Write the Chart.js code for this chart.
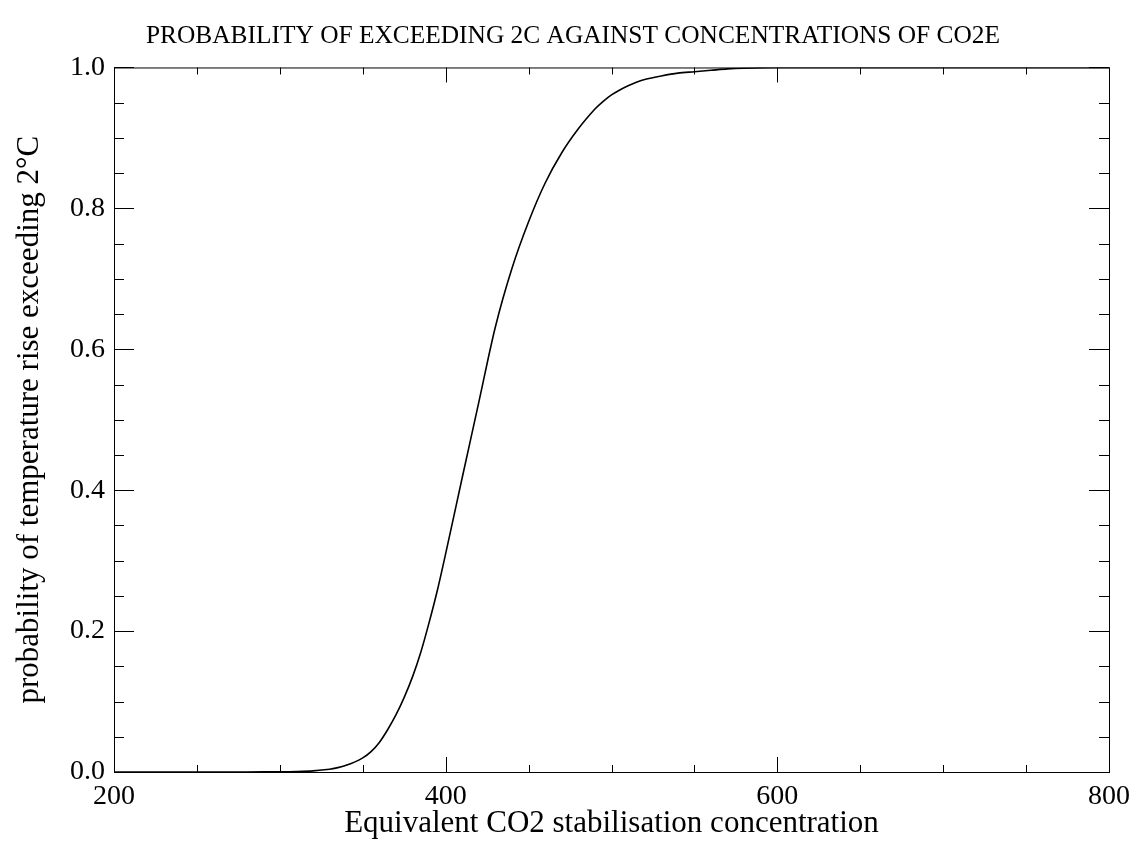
<!DOCTYPE html>
<html>
<head>
<meta charset="utf-8">
<script src="https://cdn.jsdelivr.net/npm/chart.js@4"></script>
<style>
  html, body { margin: 0; padding: 0; background: #fff; }
  #wrap { width: 1135px; height: 844px; }
</style>
</head>
<body>
<div id="wrap"><canvas id="chart" width="1135" height="844"></canvas></div>
<script>
// values
const concentration = [200, 250, 280, 300, 310, 320, 330, 335, 340, 345, 350, 355, 360, 365, 370, 375, 380, 385, 390, 395, 400, 410, 420, 430, 440, 450, 460, 470, 480, 490, 495, 500, 505, 510, 515, 520, 530, 540, 550, 560, 570, 580, 600, 650, 700, 750, 800];
const probability = [0, 0, 0, 0.0003, 0.0007, 0.0016, 0.0038, 0.0062, 0.0095, 0.014, 0.02, 0.029, 0.042, 0.06, 0.081, 0.106, 0.135, 0.17, 0.212, 0.258, 0.31, 0.418, 0.525, 0.632, 0.715, 0.781, 0.836, 0.879, 0.913, 0.941, 0.952, 0.961, 0.968, 0.974, 0.979, 0.983, 0.988, 0.992, 0.994, 0.996, 0.998, 0.999, 1, 1, 1, 1, 1];

const xRange = [200, 800];
const xMajorTicks = [200, 400, 600, 800];
const xMinorStep = 50;
const yRange = [0, 1];
const yMajorTicks = [0, 0.2, 0.4, 0.6, 0.8, 1.0];
const yMinorStep = 0.05;

const serif = "'Liberation Serif', 'Times New Roman', serif";

// IDL style box with inward ticks on all four sides
const frameTicks = {
  id: 'frameTicks',
  afterDatasetsDraw(chart) {
    const {ctx, chartArea: a, scales: {x, y}} = chart;
    ctx.save();
    ctx.strokeStyle = '#000';
    ctx.lineWidth = 1;
    ctx.strokeRect(a.left + 0.5, a.top + 0.5, a.width, a.height);
    ctx.beginPath();
    const nx = Math.round((xRange[1] - xRange[0]) / xMinorStep);
    for (let i = 0; i <= nx; i++) {
      const v = xRange[0] + i * xMinorStep;
      const px = Math.round(x.getPixelForValue(v)) + 0.5;
      const len = xMajorTicks.includes(v) ? 15 : 7;
      ctx.moveTo(px, a.bottom); ctx.lineTo(px, a.bottom - len);
      ctx.moveTo(px, a.top); ctx.lineTo(px, a.top + len);
    }
    const ny = Math.round((yRange[1] - yRange[0]) / yMinorStep);
    for (let i = 0; i <= ny; i++) {
      const v = +(yRange[0] + i * yMinorStep).toFixed(2);
      const py = Math.round(y.getPixelForValue(v)) + 0.5;
      const len = yMajorTicks.includes(v) ? 20 : 10;
      ctx.moveTo(a.left, py); ctx.lineTo(a.left + len, py);
      ctx.moveTo(a.right, py); ctx.lineTo(a.right - len, py);
    }
    ctx.stroke();
    ctx.restore();
  }
};

const points = concentration.map((c, i) => ({x: c, y: probability[i]}));

new Chart(document.getElementById('chart'), {
  type: 'scatter',
  data: {
    datasets: [{
      data: points,
      showLine: true,
      borderColor: '#000',
      borderWidth: 1.6,
      pointRadius: 0,
      tension: 0.3,
      fill: false
    }]
  },
  options: {
    responsive: false,
    animation: false,
    // left/right padding also shifts the page title a little right, as in the original
    layout: { padding: { left: 37, right: 26, top: 0, bottom: 0 } },
    plugins: {
      legend: { display: false },
      tooltip: { enabled: false },
      title: {
        display: true,
        text: 'PROBABILITY OF EXCEEDING 2C AGAINST CONCENTRATIONS OF CO2E',
        color: '#000',
        font: { family: serif, size: 25.4, weight: 'normal' },
        padding: { top: 21, bottom: 16 }
      }
    },
    scales: {
      x: {
        type: 'linear',
        min: xRange[0],
        max: xRange[1],
        grid: { display: false, drawTicks: false },
        border: { display: false },
        ticks: {
          stepSize: 200,
          color: '#000',
          padding: 8,
          maxRotation: 0,
          font: { family: serif, size: 28 }
        },
        title: {
          display: true,
          text: 'Equivalent CO2 stabilisation concentration',
          color: '#000',
          font: { family: serif, size: 31 },
          padding: { top: 0, bottom: 2 }
        },
        afterFit(scale) {
          scale.height = 72;
          scale.paddingLeft = 0;
          scale.paddingRight = 0;
        }
      },
      y: {
        min: yRange[0],
        max: yRange[1],
        grid: { display: false, drawTicks: false },
        border: { display: false },
        ticks: {
          stepSize: 0.2,
          color: '#000',
          padding: 9,
          font: { family: serif, size: 28 },
          callback: v => v.toFixed(1)
        },
        title: {
          display: true,
          text: 'probability of temperature rise exceeding 2\u00B0C',
          color: '#000',
          font: { family: serif, size: 31 },
          padding: { top: -25.6, bottom: 0 }
        },
        afterFit(scale) { scale.width = 77; }
      }
    }
  },
  plugins: [frameTicks]
});
</script>
</body>
</html>
